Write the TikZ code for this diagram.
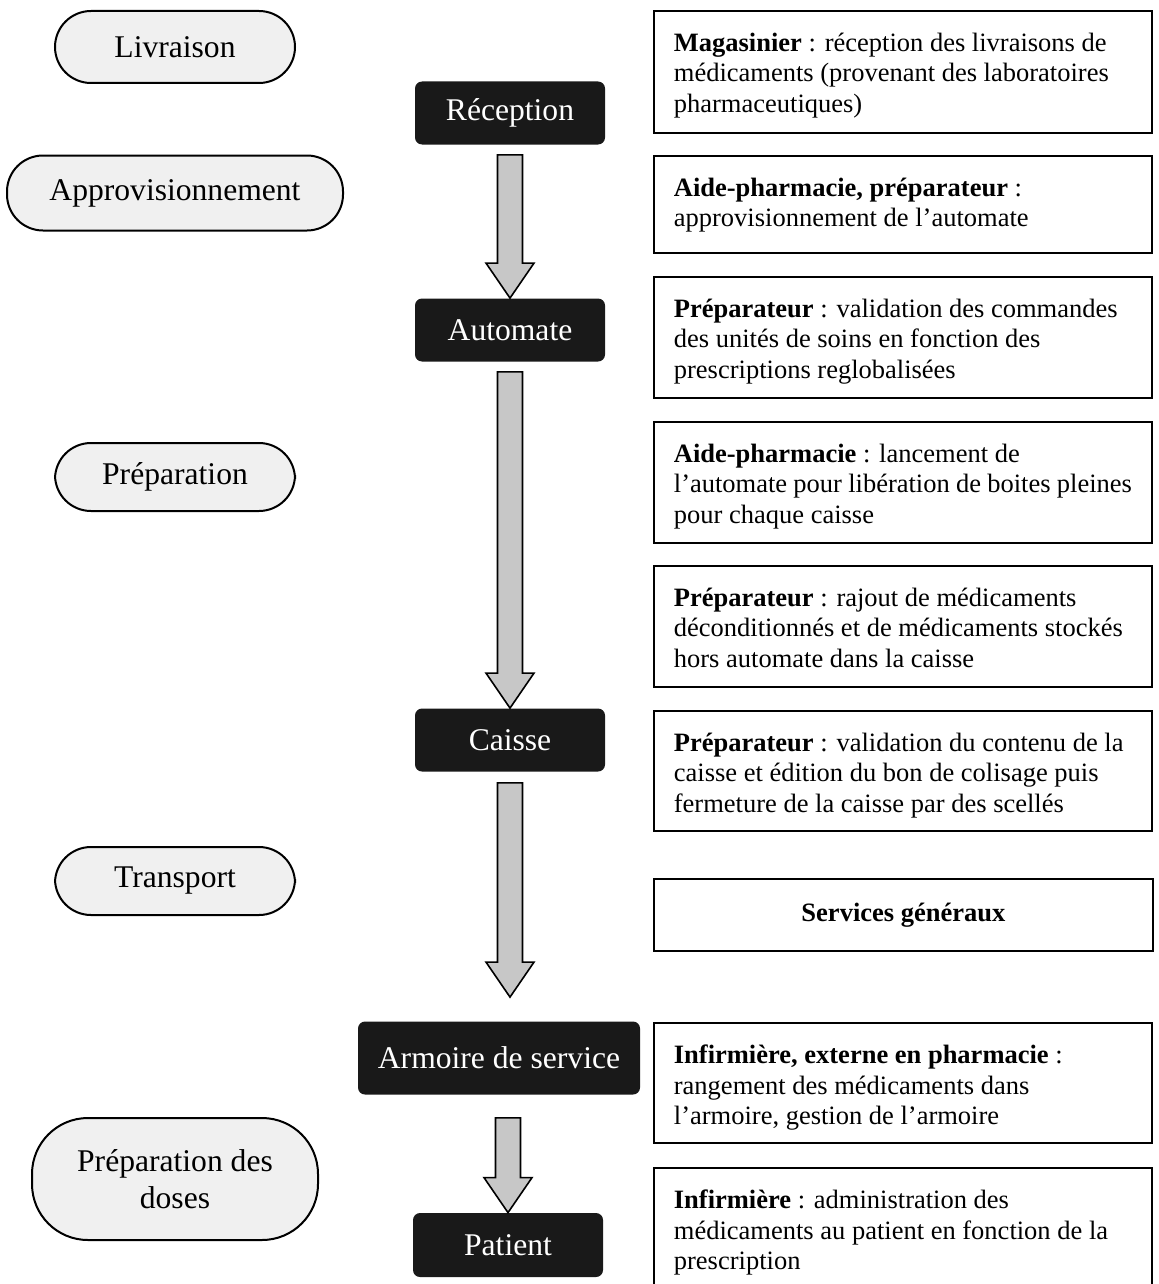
\documentclass[tikz,border=0pt]{standalone}
\usepackage{fontspec}
\setmainfont{Liberation Serif}
\usetikzlibrary{calc}

% texte des cadres de droite, colle en haut
\newcommand{\cadre}[2]{\begin{minipage}[t][#1][t]{229pt}\raggedright #2\end{minipage}}
% grosse fleche grise, #1 = haut, #2 = pointe
\newcommand{\fleche}[2]{\draw[fleche] ($(#1)+(-12.5,0)$) -- ($(#2)+(-12.5,-35)$) -- ($(#2)+(-24,-35)$) -- (#2) -- ($(#2)+(24,-35)$) -- ($(#2)+(12.5,-35)$) -- ($(#1)+(12.5,0)$) -- cycle;}

\begin{document}
\begin{tikzpicture}[x=0.5pt, y=-0.5pt, every node/.style={font=\fontsize{15.8pt}{18.4pt}\selectfont}]

\tikzstyle{phase}=[draw, line width=1pt, fill=black!6, rounded corners=18pt, minimum width=120pt, minimum height=36pt, align=center]
\tikzstyle{lieu}=[fill=black!90, text=white, rounded corners=3.5pt, minimum width=95pt, minimum height=31.5pt]
\tikzstyle{role}=[draw, line width=0.9pt, inner xsep=10pt, inner ysep=11pt, anchor=north west, font=\fontsize{13.25pt}{15.25pt}\selectfont]
\tikzstyle{fleche}=[line width=0.8pt, fill=black!22, line join=miter]

\useasboundingbox (0,0) rectangle (1158,1284);

% phases a gauche
\node[phase] (livraison) at (175,47) {Livraison};
\node[phase, minimum width=168pt, minimum height=37.5pt] (appro) at (175,193) {Approvisionnement};
\node[phase, minimum height=34pt] (preparation) at (175,477) {Préparation};
\node[phase, minimum height=34pt] (transport) at (175,881) {Transport};
\node[phase, minimum width=143pt, minimum height=61pt, rounded corners=28pt] (doses) at (175,1179) {Préparation des\\doses};

% circuit au milieu
\node[lieu] (reception) at (510,113) {Réception};
\node[lieu] (automate) at (510,330) {Automate};
\node[lieu] (caisse) at (510,740) {Caisse};
\node[lieu, minimum width=141pt, minimum height=36.5pt] (armoire) at (499,1058) {Armoire de service};
\node[lieu, minimum height=32pt] (patient) at (508,1245) {Patient};

\coordinate (h1) at ($(reception.south)+(0,10)$);
\coordinate (h2) at ($(automate.south)+(0,10)$);
\coordinate (h3) at ($(caisse.south)+(0,11)$);
\coordinate (pointe) at ($(caisse.south |- armoire.north)+(0,-24)$);
\coordinate (h4) at ($(patient.north |- armoire.south)+(0,23)$);

\fleche{h1}{automate.north}
\fleche{h2}{caisse.north}
\fleche{h3}{pointe}
\fleche{h4}{patient.north}

% acteurs a droite
\node[role] (magasinier) at (653,10) {\cadre{39pt}{\textbf{Magasinier} : réception des livraisons de\\ médicaments (provenant des laboratoires\\ pharmaceutiques)}};
\node[role] (aide) at (653,155) {\cadre{26.5pt}{\textbf{Aide-pharmacie, préparateur} :\\ approvisionnement de l’automate}};
\node[role] (commandes) at (653,276) {\cadre{38.5pt}{\textbf{Préparateur} : validation des commandes\\ des unités de soins en fonction des\\ prescriptions reglobalisées}};
\node[role] (lancement) at (653,421) {\cadre{38.5pt}{\textbf{Aide-pharmacie} : lancement de\\ l’automate pour libération de boites pleines\\ pour chaque caisse}};
\node[role] (rajout) at (653,565) {\cadre{38.5pt}{\textbf{Préparateur} : rajout de médicaments\\ déconditionnés et de médicaments stockés\\ hors automate dans la caisse}};
\node[role] (scelles) at (653,710) {\cadre{38pt}{\textbf{Préparateur} : validation du contenu de la\\ caisse et édition du bon de colisage puis\\ fermeture de la caisse par des scellés}};
\node[role, inner sep=0pt, minimum width=249.5pt, minimum height=36pt, text depth=3pt] (services) at (653,878) {\textbf{Services généraux}};
\node[role] (rangement) at (653,1022) {\cadre{38pt}{\textbf{Infirmière, externe en pharmacie} :\\ rangement des médicaments dans\\ l’armoire, gestion de l’armoire}};
\node[role] (administration) at (653,1167) {\cadre{41pt}{\textbf{Infirmière} : administration des\\ médicaments au patient en fonction de la\\ prescription}};

\end{tikzpicture}
\end{document}
